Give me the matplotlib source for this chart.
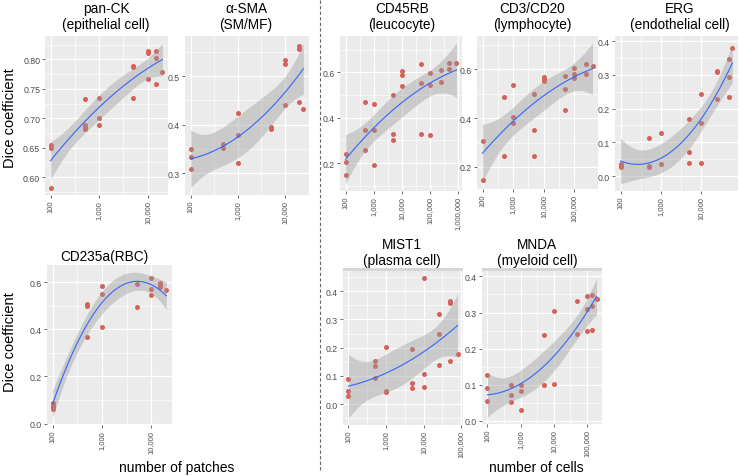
import numpy as np
import matplotlib
matplotlib.use("Agg")
import matplotlib.pyplot as plt
from matplotlib.lines import Line2D
from matplotlib.patches import Rectangle

plt.rcParams["font.family"] = ["Liberation Sans", "DejaVu Sans"]

# ---- data (x = number of patches / cells, y = Dice coefficient) ----
panck_x = [100, 100, 100, 500, 500, 500, 500, 1000, 1000, 1000,
           5000, 5000, 5000, 10000, 10000, 10000, 15000, 15000, 15000, 20000]
panck_y = [0.655, 0.650, 0.582, 0.733, 0.689, 0.686, 0.682, 0.734, 0.701, 0.688,
           0.789, 0.787, 0.734, 0.814, 0.811, 0.767, 0.815, 0.802, 0.758, 0.779]

sma_x = [100, 100, 100, 500, 500, 1000, 1000, 1000, 5000, 5000,
         10000, 10000, 10000, 20000, 20000, 20000, 25000]
sma_y = [0.351, 0.333, 0.309, 0.361, 0.353, 0.424, 0.379, 0.321, 0.396, 0.391,
         0.533, 0.525, 0.441, 0.563, 0.555, 0.447, 0.432]

cd45_x = [100, 100, 100, 500, 500, 500, 1000, 1000, 1000, 5000, 5000, 5000,
          10000, 10000, 10000, 50000, 50000, 50000, 100000, 100000, 100000,
          250000, 250000, 500000, 500000, 900000]
cd45_y = [0.241, 0.206, 0.148, 0.468, 0.347, 0.258, 0.461, 0.347, 0.190,
          0.498, 0.326, 0.301, 0.604, 0.587, 0.538, 0.636, 0.553, 0.326,
          0.597, 0.544, 0.324, 0.609, 0.556, 0.641, 0.615, 0.640]

cd3_x = [100, 100, 500, 500, 1000, 1000, 1000, 5000, 5000, 5000,
         10000, 10000, 10000, 50000, 50000, 50000, 100000, 100000, 100000,
         250000, 250000, 400000]
cd3_y = [0.307, 0.147, 0.488, 0.245, 0.538, 0.405, 0.381, 0.501, 0.350, 0.245,
         0.570, 0.561, 0.553, 0.572, 0.519, 0.435, 0.604, 0.580, 0.564,
         0.623, 0.580, 0.614]

erg_x = [100, 100, 100, 500, 500, 500, 1000, 1000, 5000, 5000, 5000,
         10000, 10000, 10000, 25000, 25000, 25000, 50000, 50000, 50000, 60000]
erg_y = [0.036, 0.032, 0.028, 0.114, 0.031, 0.027, 0.129, 0.036, 0.169, 0.072, 0.038,
         0.243, 0.158, 0.040, 0.312, 0.307, 0.229, 0.346, 0.293, 0.235, 0.379]

cd235_x = [100, 100, 100, 100, 500, 500, 500, 1000, 1000, 1000, 5000, 5000,
           10000, 10000, 10000, 15000, 15000, 15000, 20000]
cd235_y = [0.085, 0.075, 0.068, 0.061, 0.508, 0.498, 0.365, 0.584, 0.550, 0.410,
           0.590, 0.494, 0.617, 0.570, 0.543, 0.596, 0.586, 0.577, 0.566]

mist_x = [100, 100, 100, 500, 500, 500, 1000, 1000, 1000, 5000, 5000, 5000,
          10000, 10000, 10000, 25000, 25000, 25000, 50000, 50000, 50000, 80000]
mist_y = [0.089, 0.047, 0.030, 0.153, 0.136, 0.092, 0.201, 0.047, 0.043,
          0.196, 0.076, 0.058, 0.447, 0.107, 0.062, 0.321, 0.247, 0.140,
          0.366, 0.360, 0.151, 0.178]

mnda_x = [100, 100, 100, 500, 500, 500, 1000, 1000, 1000, 5000, 5000,
          10000, 10000, 50000, 50000, 100000, 100000, 100000,
          150000, 150000, 150000, 200000]
mnda_y = [0.126, 0.090, 0.055, 0.099, 0.070, 0.051, 0.099, 0.081, 0.030,
          0.238, 0.099, 0.303, 0.102, 0.333, 0.241, 0.345, 0.309, 0.249,
          0.348, 0.319, 0.252, 0.338]

W, H = 740, 477
# title, x, y, panel box in pixels (left, top, right, bottom), title centre, y ticks, x ticks, strip
panels = [
    ("pan-CK\n(epithelial cell)", panck_x, panck_y, (45, 37, 168, 196), (106, 17),
     [0.60, 0.65, 0.70, 0.75, 0.80], "{:.2f}", [100, 1000, 10000], False),
    ("α-SMA\n(SM/MF)", sma_x, sma_y, (185, 37, 309, 196), (246, 17),
     [0.3, 0.4, 0.5], "{:.1f}", [100, 1000, 10000], False),
    ("CD45RB\n(leucocyte)", cd45_x, cd45_y, (340, 37, 462, 192), (402, 17),
     [0.2, 0.4, 0.6], "{:.1f}", [100, 1000, 10000, 100000, 1000000], False),
    ("CD3/CD20\n(lymphocyte)", cd3_x, cd3_y, (477, 37, 598, 190), (532, 17),
     [0.2, 0.4, 0.6], "{:.1f}", [100, 1000, 10000, 100000], False),
    ("ERG\n(endothelial cell)", erg_x, erg_y, (615, 37, 738, 192), (680, 17),
     [0.0, 0.1, 0.2, 0.3, 0.4], "{:.1f}", [100, 1000, 10000], False),
    ("CD235a(RBC)", cd235_x, cd235_y, (47, 266, 172, 426), (104, 257),
     [0.0, 0.2, 0.4, 0.6], "{:.1f}", [100, 1000, 10000], False),
    ("MIST1\n(plasma cell)", mist_x, mist_y, (343, 272, 463, 426), (402, 253),
     [0.0, 0.1, 0.2, 0.3, 0.4], "{:.1f}", [100, 1000, 10000, 100000], True),
    ("MNDA\n(myeloid cell)", mnda_x, mnda_y, (482, 272, 602, 425), (537, 253),
     [0.0, 0.1, 0.2, 0.3, 0.4], "{:.1f}", [100, 1000, 10000, 100000], True),
]


def t_quantile(df, z=1.959964):
    # Cornish-Fisher expansion for the 97.5% t quantile
    return (z + (z**3 + z) / (4 * df)
            + (5 * z**5 + 16 * z**3 + 3 * z) / (96 * df**2)
            + (3 * z**7 + 19 * z**5 + 17 * z**3 - 15 * z) / (384 * df**3))


def quad_fit(x, y, xs):
    # quadratic fit on log10(x) with 95% confidence band of the mean
    X = np.column_stack([np.ones_like(x), x, x ** 2])
    beta, *_ = np.linalg.lstsq(X, y, rcond=None)
    resid = y - X @ beta
    df = len(x) - 3
    sigma2 = resid @ resid / df
    cov = sigma2 * np.linalg.inv(X.T @ X)
    Xs = np.column_stack([np.ones_like(xs), xs, xs ** 2])
    fit = Xs @ beta
    se = np.sqrt(np.einsum("ij,jk,ik->i", Xs, cov, Xs))
    t = t_quantile(df)
    return fit, fit - t * se, fit + t * se


fig = plt.figure(figsize=(W / 100, H / 100), dpi=100)

for title, xv, yv, box, tpos, yticks, yfmt, xticks, strip in panels:
    l, t, r, b = box
    ax = fig.add_axes([l / W, 1 - b / H, (r - l) / W, (b - t) / H])
    lx = np.log10(np.array(xv, dtype=float))
    y = np.array(yv)
    xs = np.linspace(lx.min(), lx.max(), 80)
    fit, lo, hi = quad_fit(lx, y, xs)

    ax.set_facecolor("#EBEBEB")
    ax.scatter(lx, y, s=13, color="#D5625A", linewidths=0, zorder=3)
    ax.fill_between(xs, lo, hi, color="#999999", alpha=0.4, linewidth=0, zorder=4)
    ax.plot(xs, fit, color="#3366FF", lw=0.8, zorder=5)

    lt = np.log10(xticks)
    ax.set_xticks(lt)
    ax.set_xticklabels([f"{v:,}" for v in xticks], rotation=90, fontsize=5.4, color="#4D4D4D")
    ax.set_xticks(lt[:-1] + 0.5, minor=True)
    ax.set_yticks(yticks)
    ax.set_yticklabels([yfmt.format(v) for v in yticks], fontsize=6.3, color="#4D4D4D")
    step = yticks[1] - yticks[0]
    ax.set_yticks(np.arange(yticks[0] - step / 2, yticks[-1] + step, step), minor=True)

    xr = lx.max() - lx.min()
    ax.set_xlim(lx.min() - 0.05 * xr, lx.max() + 0.05 * xr)
    ymin = min(y.min(), lo.min())
    ymax = max(y.max(), hi.max())
    yr = ymax - ymin
    ax.set_ylim(ymin - 0.05 * yr, ymax + 0.05 * yr)

    ax.grid(which="major", color="white", lw=0.9)
    ax.grid(which="minor", color="white", lw=0.45)
    ax.set_axisbelow(True)
    ax.tick_params(which="major", length=2, width=0.5, color="#333333", pad=1.5)
    ax.tick_params(which="minor", length=0)
    for s in ax.spines.values():
        s.set_visible(False)

    if strip:
        ax.add_patch(Rectangle((0, 1), 1, 3 / (b - t), transform=ax.transAxes,
                               color="#D6D6D6", clip_on=False, lw=0))

    fig.text(tpos[0] / W, 1 - tpos[1] / H, title, ha="center", va="center",
             fontsize=9.8, linespacing=1.2)

fig.text(10 / W, 1 - 118 / H, "Dice coefficient", rotation=90, ha="center", va="center", fontsize=10.5)
fig.text(10 / W, 1 - 342 / H, "Dice coefficient", rotation=90, ha="center", va="center", fontsize=10.5)
fig.text(177 / W, 1 - 468 / H, "number of patches", ha="center", va="center", fontsize=10)
fig.text(536 / W, 1 - 468 / H, "number of cells", ha="center", va="center", fontsize=10)

fig.add_artist(Line2D([319.5 / W, 319.5 / W], [1 - 1 / H, 1 - 472 / H], transform=fig.transFigure,
                      color="#666666", lw=0.8, ls=(0, (3, 2))))

fig.savefig("out.png", dpi=100)
